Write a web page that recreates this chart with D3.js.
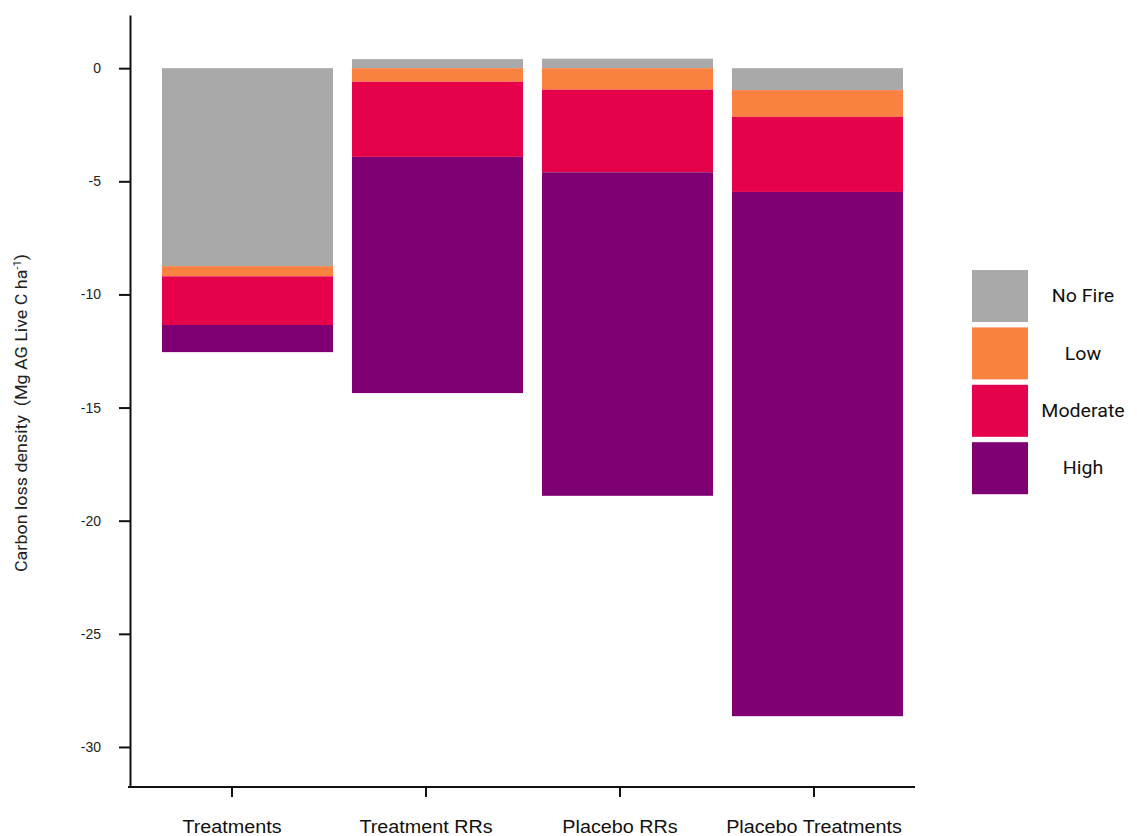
<!DOCTYPE html>
<html>
<head>
<meta charset="utf-8">
<script src="https://cdn.jsdelivr.net/npm/d3@7"></script>
<style>
  html, body { margin: 0; padding: 0; background: #ffffff; }
  svg { display: block; font-family: Roboto, "Noto Sans", sans-serif; }
</style>
</head>
<body>
<svg id="chart" width="1137" height="836"></svg>
<script>
// Carbon loss density by group, stacked by fire severity class
const groups = ["Treatments", "Treatment RRs", "Placebo RRs", "Placebo Treatments"];
const severities = ["No Fire", "Low", "Moderate", "High"];

// Values per severity class, one entry per group (Mg AG Live C / ha)
const noFire   = [-8.75,  0.40,  0.42, -0.97];
const low      = [-0.45, -0.60, -0.95, -1.18];
const moderate = [-2.15, -3.32, -3.65, -3.32];
const high     = [-1.20, -10.44, -14.30, -23.17];

const yTicks = [0, -5, -10, -15, -20, -25, -30];
const colors = ["#a9a9a9", "#fa8241", "#e6024b", "#7f0072"];

const rows = groups.map((g, i) => ({
  group: g,
  "No Fire": noFire[i],
  "Low": low[i],
  "Moderate": moderate[i],
  "High": high[i]
}));

const svg = d3.select("#chart");

const x = d3.scaleBand()
  .domain(groups)
  .range([152.5, 912.5])
  .paddingInner(0.1)
  .paddingOuter(0.05);

// axis tick placement for the category labels
const xAxisScale = x.copy().range([135, 911]);

const y = d3.scaleLinear()
  .domain([-31.77, 2.35])
  .range([787, 15]);

const color = d3.scaleOrdinal().domain(severities).range(colors);

const stacked = d3.stack()
  .keys(severities)
  .offset(d3.stackOffsetDiverging)(rows);

// bars
svg.append("g")
  .selectAll("g")
  .data(stacked)
  .join("g")
  .attr("fill", d => color(d.key))
  .selectAll("rect")
  .data(d => d)
  .join("rect")
  .attr("x", d => x(d.data.group))
  .attr("width", x.bandwidth())
  .attr("y", d => y(Math.max(d[0], d[1])))
  .attr("height", d => Math.abs(y(d[0]) - y(d[1])));

// y axis
const yAxis = svg.append("g")
  .attr("transform", "translate(130,0)")
  .call(d3.axisLeft(y).tickValues(yTicks).tickSize(11).tickPadding(18).tickSizeOuter(0)
    .tickFormat(d3.format("d")));
yAxis.select(".domain").attr("stroke", "#111").attr("stroke-width", 2);
yAxis.selectAll(".tick line").attr("stroke", "#111").attr("stroke-width", 2);
yAxis.selectAll(".tick text")
  .attr("fill", "#222")
  .style("font-size", "14px")
  .text(d => d === 0 ? "0" : "-" + Math.abs(d));

// x axis
const xAxis = svg.append("g")
  .attr("transform", "translate(0,787)")
  .call(d3.axisBottom(xAxisScale).tickSize(10).tickPadding(24).tickSizeOuter(0));
xAxis.select(".domain")
  .attr("d", "M128,0H915")
  .attr("stroke", "#111").attr("stroke-width", 2);
xAxis.selectAll(".tick line").attr("stroke", "#111").attr("stroke-width", 2);
xAxis.selectAll(".tick text")
  .attr("fill", "#111")
  .style("font-size", "17.5px")
  .attr("transform", "scale(1.13,1)");

// y axis title
svg.append("text")
  .attr("transform", "translate(27,413) rotate(-90) scale(1.12,1)")
  .attr("text-anchor", "middle")
  .attr("fill", "#222")
  .style("font-size", "16px")
  .html('Carbon loss density&#160;&#160;(Mg AG Live C ha<tspan dy="-6" font-size="10px">-1</tspan><tspan dy="6">)</tspan>');

// legend
const legend = svg.append("g").attr("transform", "translate(972,270)");
const item = legend.selectAll("g")
  .data(severities)
  .join("g")
  .attr("transform", (d, i) => `translate(0,${i * 57.4})`);
item.append("rect")
  .attr("width", 56)
  .attr("height", 52)
  .attr("fill", d => color(d));
item.append("text")
  .attr("transform", "translate(111,26) scale(1.12,1)")
  .attr("dy", "0.35em")
  .attr("text-anchor", "middle")
  .attr("fill", "#111")
  .style("font-size", "17.5px")
  .text(d => d);
</script>
</body>
</html>
